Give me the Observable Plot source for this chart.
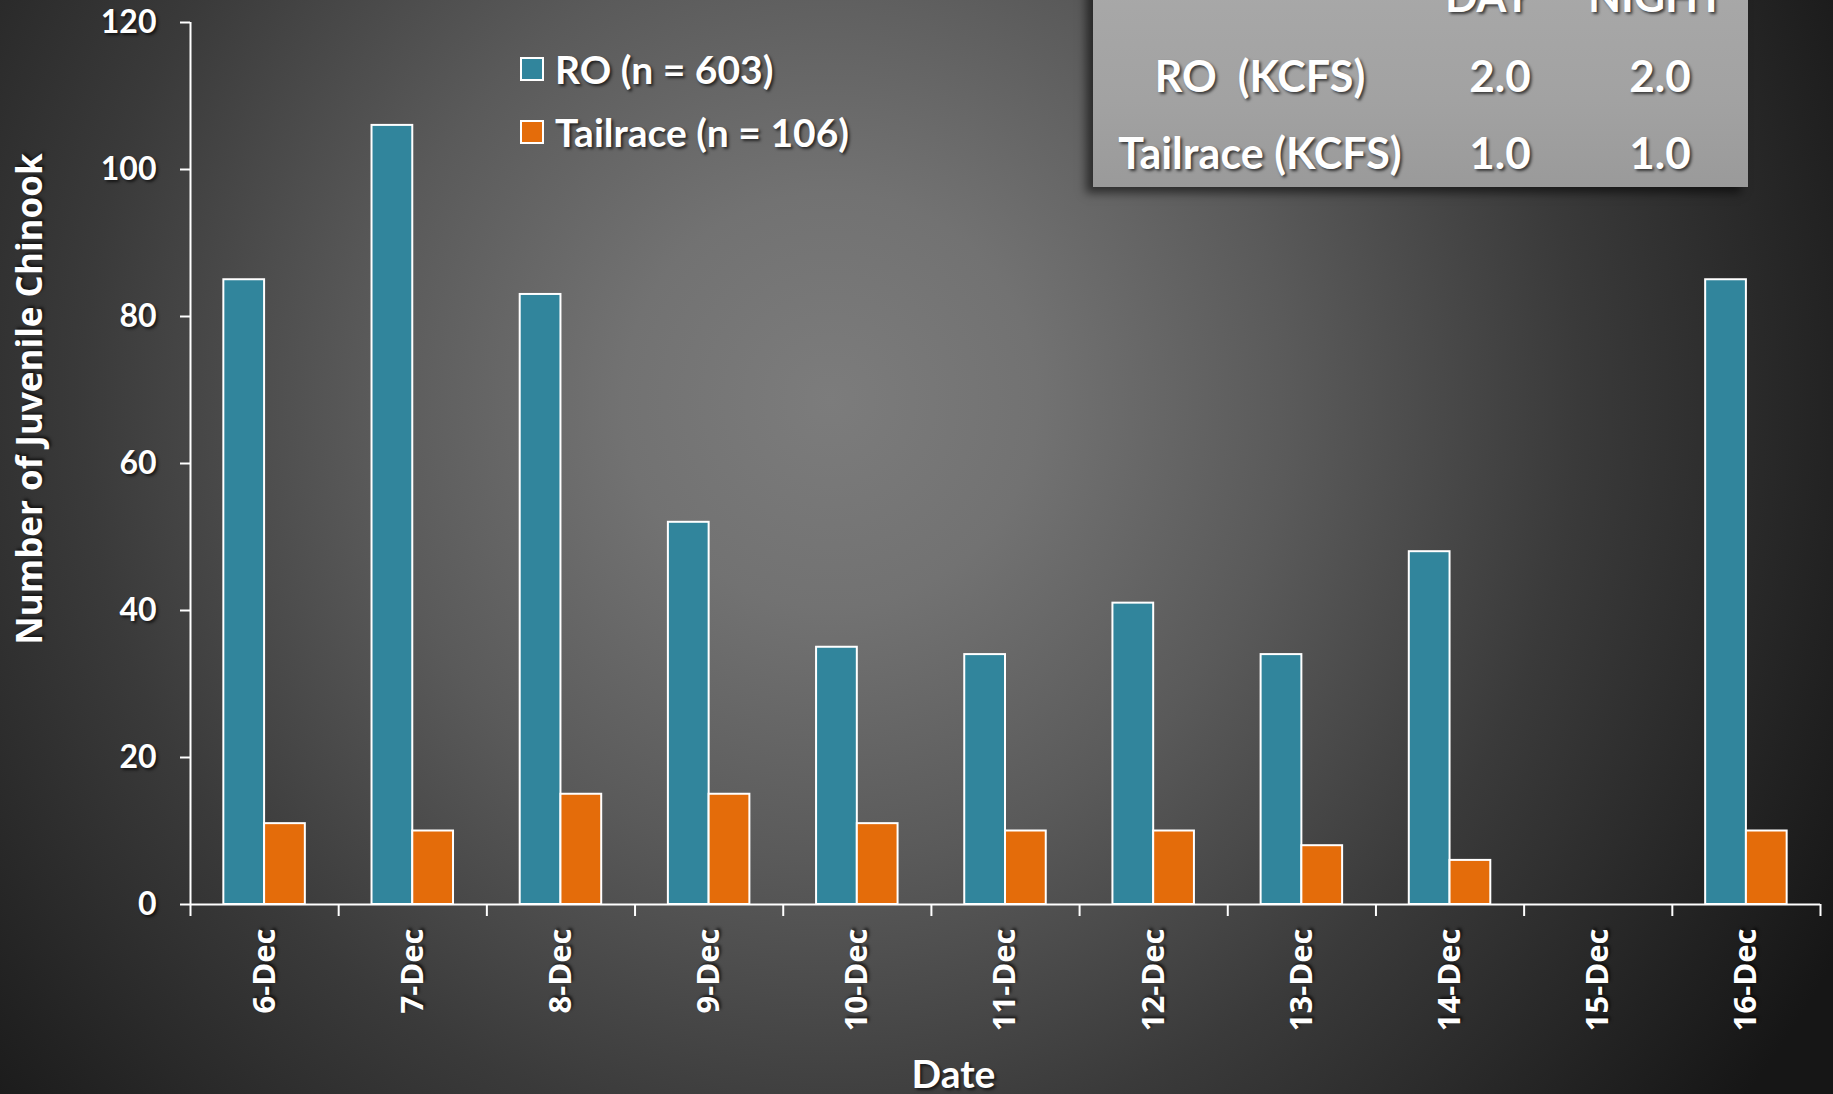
<!DOCTYPE html>
<html>
<head>
<meta charset="utf-8">
<script src="https://cdn.jsdelivr.net/npm/d3@7"></script>
<script src="https://cdn.jsdelivr.net/npm/@observablehq/plot@0.6"></script>
<style>
  html, body { margin: 0; padding: 0; background: #1a1a1a; }
  #stage {
    position: relative; width: 1833px; height: 1094px; overflow: hidden;
    background: radial-gradient(circle 1150px at 830px 400px, #7c7c7c 0%, #727272 18%, #5a5a5a 40%, #3a3a3a 65%, #222 88%, #161616 100%);
  }
  #stage svg { position: absolute; left: 0; top: 0; }
  svg text, .lbl { text-shadow: 2px 2px 3px rgba(0,0,0,0.65); }
  .lbl { position: absolute; color: white; font-family: Lato, sans-serif; font-weight: bold; white-space: pre; transform: translate(-50%, -50%); line-height: 1; }
  #ytitle { font-family: "Open Sans", sans-serif; font-size: 35px; transform: translate(-50%, -50%) rotate(-90deg); }
  #table {
    position: absolute; left: 1093px; top: -30px; width: 655px; height: 217px;
    background: linear-gradient(180deg, #a9a9a9 0%, #a2a2a2 60%, #9a9a9a 100%);
    box-shadow: -7px 6px 9px rgba(0,0,0,0.55);
  }
  .legend { position: absolute; left: 520px; display: flex; align-items: center; }
  .legend .sw { width: 20px; height: 20px; border: 2px solid white; margin-right: 11px; }
  .legend span { color: white; font-family: Lato, sans-serif; font-weight: bold; font-size: 39px; text-shadow: 2px 2px 3px rgba(0,0,0,0.65); white-space: pre; }
</style>
</head>
<body>
<div id="stage"><div id="table"></div></div>
<script>
const dates = ["6-Dec","7-Dec","8-Dec","9-Dec","10-Dec","11-Dec","12-Dec","13-Dec","14-Dec","15-Dec","16-Dec"];
const roCounts = [85,106,83,52,35,34,41,34,48,0,85];
const tailraceCounts = [11,10,15,15,11,10,10,8,6,0,10];
const seriesNames = ["RO (n = 603)", "Tailrace (n = 106)"];
const seriesColors = ["#31859c", "#e46c0a"];
const yTicks = [0,20,40,60,80,100,120];
const yTitle = "Number of Juvenile Chinook";
const xTitle = "Date";
const tableHeader = ["DAY", "NIGHT"];
const tableRowLabels = ["RO  (KCFS)", "Tailrace (KCFS)"];
const tableDay = ["2.0", "1.0"];
const tableNight = ["2.0", "1.0"];

const rows = dates.map((d, i) => ({date: d, i, ro: roCounts[i], tail: tailraceCounts[i]}));

const chart = Plot.plot({
  width: 1833, height: 1094,
  marginLeft: 190, marginRight: 13, marginTop: 22, marginBottom: 190,
  style: {background: "transparent", color: "white", overflow: "visible"},
  x: {domain: [0, dates.length], axis: null, label: null},
  y: {domain: [0, 120], axis: null, label: null},
  marks: [
    Plot.rectY(rows, {x1: d => d.i + 0.225, x2: d => d.i + 0.5, y: "ro", fill: seriesColors[0], stroke: "white", strokeWidth: 2}),
    Plot.rectY(rows, {x1: d => d.i + 0.5, x2: d => d.i + 0.775, y: "tail", fill: seriesColors[1], stroke: "white", strokeWidth: 2}),
    Plot.axisY({ticks: yTicks, tickSize: 10, tickPadding: 24, strokeWidth: 2, label: null,
      fontFamily: "Lato", fontSize: 32, fontWeight: "bold"}),
    Plot.axisX({ticks: d3.range(dates.length + 1), tickSize: 12, tickFormat: () => "", strokeWidth: 2, label: null}),
    Plot.axisX({ticks: dates.map((d, i) => i + 0.5), tickSize: 0, tickPadding: 24, tickRotate: -90,
      tickFormat: v => dates[Math.floor(v)], label: null,
      fontFamily: "Open Sans", fontSize: 31, fontWeight: "bold"}),
    Plot.ruleX([0], {stroke: "white", strokeWidth: 2}),
    Plot.ruleY([0], {stroke: "white", strokeWidth: 2}),
    Plot.text([xTitle], {text: d => d, frameAnchor: "bottom", dx: -52, dy: 171, lineAnchor: "middle",
      fontFamily: "Lato", fontSize: 39, fontWeight: "bold", fill: "white"})
  ]
});
const stage = document.getElementById("stage");
stage.insertBefore(chart, stage.firstChild);

// legend
seriesNames.forEach((name, k) => {
  const item = document.createElement("div");
  item.className = "legend";
  item.style.top = (k === 0 ? 46 : 109) + "px";
  item.innerHTML = `<div class="sw" style="background:${seriesColors[k]}"></div><span>${name}</span>`;
  stage.appendChild(item);
});

function place(txt, x, y, size, id) {
  const el = document.createElement("div");
  el.className = "lbl";
  if (id) el.id = id;
  el.textContent = txt;
  el.style.left = x + "px"; el.style.top = y + "px"; if (size) el.style.fontSize = size + "px";
  stage.appendChild(el);
}
// y-axis title
place(yTitle, 28, 399, null, "ytitle");
// table
place(tableHeader[0], 1488, -5, 43);
place(tableHeader[1], 1656, -5, 43);
tableRowLabels.forEach((t, k) => {
  const y = k === 0 ? 75 : 152;
  place(t, 1260, y, 43);
  place(tableDay[k], 1500, y, 44);
  place(tableNight[k], 1660, y, 44);
});
</script>
</body>
</html>
